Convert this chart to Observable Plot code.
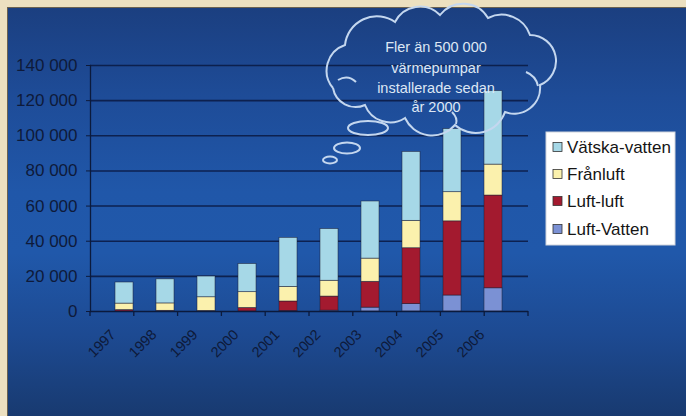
<!DOCTYPE html>
<html>
<head>
<meta charset="utf-8">
<script src="https://cdn.jsdelivr.net/npm/d3@7"></script>
<script src="https://cdn.jsdelivr.net/npm/@observablehq/plot@0.6"></script>
<style>
  html, body { margin: 0; padding: 0; background: #ece0c0; }
  #wrap { position: relative; width: 686px; height: 416px; background: #ece0c0; overflow: hidden; }
  #bg { position: absolute; left: 7px; top: 7px; right: 0; bottom: 0;
        border-left: 1px solid #6b6250; border-top: 1px solid #6b6250;
        background: linear-gradient(to bottom, #1b3f80 0%, #1e4c98 22%, #2057a9 45%, #2058aa 60%, #1d4a92 80%, #183a70 100%); }
  #chart { position: absolute; left: 0; top: 0; }
</style>
</head>
<body>
<div id="wrap"><div id="bg"></div><div id="chart"></div></div>
<script>
const years = ["1997","1998","1999","2000","2001","2002","2003","2004","2005","2006"];
const types = ["Luft-Vatten","Luft-luft","Frånluft","Vätska-vatten"];
const colors = ["#7b91d4","#a31a2f","#fbf1ad","#a6d8e7"];
const luftVatten  = [0, 0, 0, 0, 200, 500, 2200, 4200, 9100, 13200];
const luftLuft    = [800, 400, 300, 2000, 5500, 8000, 14700, 31800, 42200, 52800];
const franluft    = [3700, 4200, 7800, 9000, 8300, 9000, 13200, 15600, 16600, 17600];
const vatskaVatten= [12000, 13700, 11800, 16000, 27900, 29400, 32500, 39200, 35900, 41800];
const yTicks = [0, 20000, 40000, 60000, 80000, 100000, 120000, 140000];
const legendOrder = ["Vätska-vatten","Frånluft","Luft-luft","Luft-Vatten"];
const cloudLines = ["Fler än 500 000","värmepumpar","installerade sedan","år 2000"];

const series = [luftVatten, luftLuft, franluft, vatskaVatten];
const rows = [];
years.forEach((yr, i) => types.forEach((t, k) => rows.push({year: yr, type: t, value: series[k][i]})));

const fmt = d => d3.format(",")(d).replace(/,/g, " ");
const font = "'Liberation Sans', Arial, sans-serif";
const ink = "#0e1a3a";

const chart = Plot.plot({
  width: 686, height: 416,
  marginLeft: 90, marginRight: 158, marginTop: 65, marginBottom: 105,
  style: {background: "transparent", fontFamily: font, overflow: "visible"},
  x: {domain: years, padding: 0.55, axis: null},
  y: {domain: [0, 140000], axis: null, label: null},
  color: {domain: types, range: colors},
  marks: [
    Plot.gridY(yTicks.filter(d => d > 0), {stroke: "#0b1c46", strokeOpacity: 0.9, strokeWidth: 1.6}),
    Plot.barY(rows, {x: "year", y: "value", fill: "type", stroke: "#1c1c30", strokeWidth: 0.7, strokeOpacity: 0.7}),
    Plot.axisY(yTicks, {tickFormat: fmt, tickSize: 4, tickPadding: 9, fontSize: 17, fill: ink, stroke: ink, label: null}),
    Plot.ruleY([0], {stroke: "#0b1a3c", strokeWidth: 1.3}),
    Plot.frame({anchor: "left", stroke: "#0b1a3c", strokeWidth: 1.3}),
    Plot.text(years, {x: d => d, frameAnchor: "bottom", dy: 24, dx: -8, rotate: -45, textAnchor: "end", fontSize: 14.5, fill: ink})
  ]
});
document.getElementById("chart").appendChild(chart);

const svg = d3.select(chart);
const xs = chart.scale("x");
const ys = chart.scale("y");
const y0 = ys.apply(0);
// category tick marks between bars
const xTickG = svg.append("g").attr("stroke", "#0b1a3c").attr("stroke-width", 1.3);
const left = xs.range[0], right = xs.range[1];
d3.range(years.length + 1).forEach(i => {
  const x = left + (right - left) * i / years.length;
  xTickG.append("line").attr("x1", x).attr("x2", x).attr("y1", y0).attr("y2", y0 + 5);
});

// thought cloud
const pts = [[333,88],[345,45],[395,22],[440,15],[488,18],[530,35],[540,85],[505,112],[455,125],[405,118],[365,105],[333,88]];
const radii = [27, 32, 28, 29, 30, 26, 26, 31, 30, 27, 23];
let d = `M${pts[0][0]},${pts[0][1]}`;
for (let i = 1; i < pts.length; i++) d += ` A${radii[i-1]},${radii[i-1]} 0 0 1 ${pts[i][0]},${pts[i][1]}`;
const cloud = svg.append("g").attr("fill", "none").attr("stroke", "#c4d7ef").attr("stroke-width", 2);
cloud.append("path").attr("d", d);
cloud.append("path").attr("d", "M338,80 q10,-6 18,2");
cloud.append("path").attr("d", "M526,72 q10,4 12,14");
cloud.append("path").attr("d", "M452,112 q6,6 4,12");
[[368,128,20,7],[347,148,13,5.5],[330,160,7,3.5]].forEach(([cx,cy,rx,ry]) =>
  cloud.append("ellipse").attr("cx", cx).attr("cy", cy).attr("rx", rx).attr("ry", ry));
const ct = svg.append("g").attr("fill", "#dde7f4").attr("font-family", font).attr("font-size", 14.5)
  .attr("text-anchor", "middle");
[47, 68, 88, 107].forEach((yy, i) => ct.append("text").attr("x", 436).attr("y", yy).attr("dy", "0.35em").text(cloudLines[i]));

// legend
const lg = svg.append("g").attr("font-family", font).attr("font-size", 17).attr("text-anchor", "start");
lg.append("rect").attr("x", 546).attr("y", 132).attr("width", 129).attr("height", 113)
  .attr("fill", "#ffffff").attr("stroke", "#d0d4dc");
const rowY = [147, 174, 201, 229];
legendOrder.forEach((t, i) => {
  lg.append("rect").attr("x", 553).attr("y", rowY[i] - 4.5).attr("width", 9).attr("height", 9)
    .attr("fill", colors[types.indexOf(t)]).attr("stroke", "#333").attr("stroke-width", 0.8);
  lg.append("text").attr("x", 567).attr("y", rowY[i]).attr("dy", "0.35em").attr("text-anchor", "start")
    .attr("fill", "#151515").text(t);
});
</script>
</body>
</html>
